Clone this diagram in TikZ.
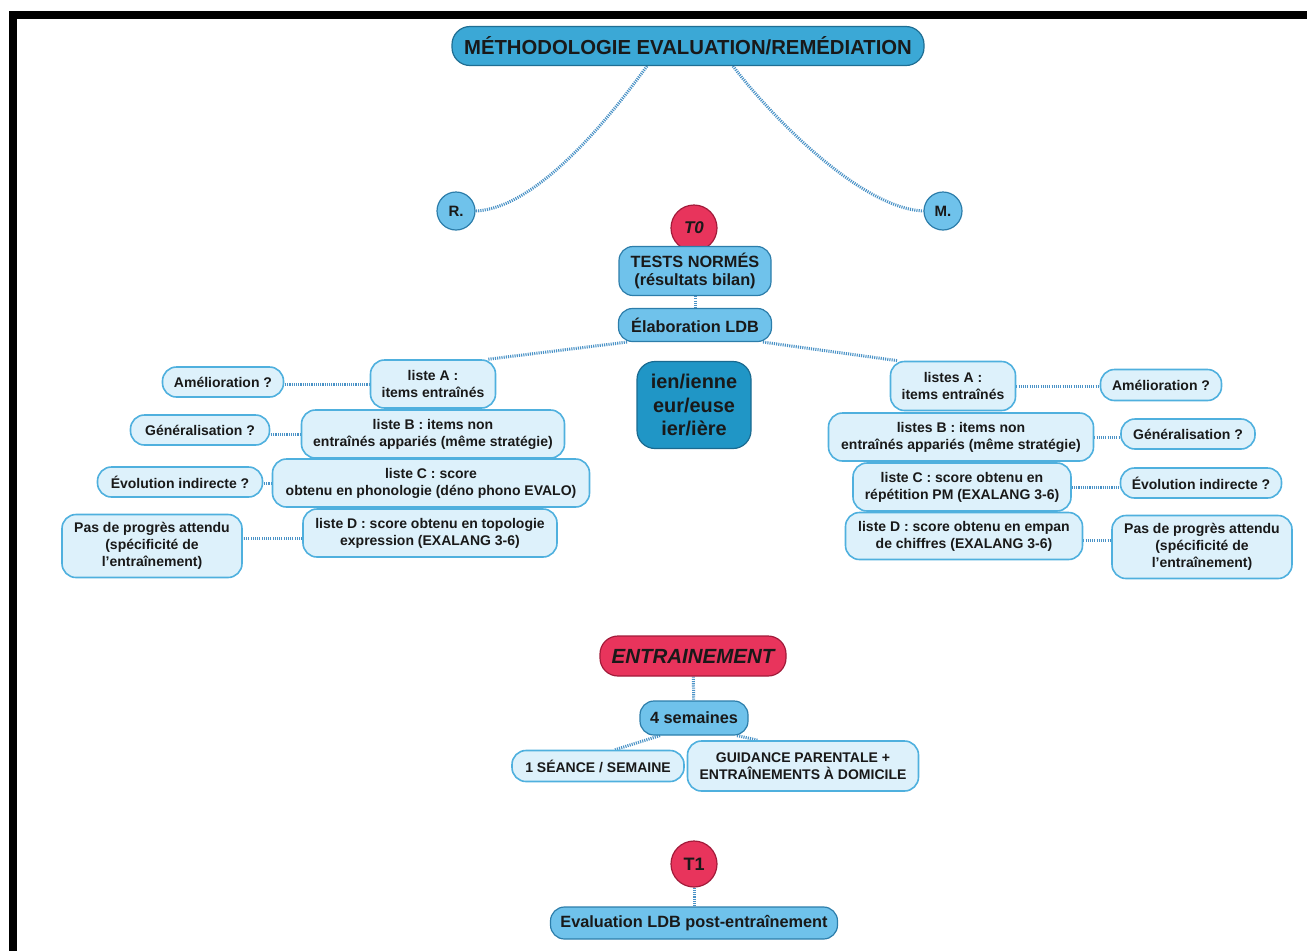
\documentclass[tikz,border=0pt]{standalone}
\usepackage{fontspec}
\setmainfont{Liberation Sans}
\usetikzlibrary{backgrounds}
\definecolor{titleFill}{HTML}{3BA8D6}
\definecolor{titleLine}{HTML}{1F6E93}
\definecolor{midFill}{HTML}{6FC2EB}
\definecolor{midLine}{HTML}{2C7DAA}
\definecolor{leafFill}{HTML}{DDF1FB}
\definecolor{leafLine}{HTML}{4FB0DE}
\definecolor{darkFill}{HTML}{2096C6}
\definecolor{darkLine}{HTML}{1A6A90}
\definecolor{redFill}{HTML}{E8345C}
\definecolor{redLine}{HTML}{A21B3A}
\definecolor{linkBlue}{HTML}{4A92C6}
\colorlet{inkColor}{black!90}

\begin{document}
\begin{tikzpicture}[x=1pt,y=-1pt,
font=\bfseries\fontsize{14}{17}\selectfont,text=inkColor,
leaf/.style={draw=leafLine,fill=leafFill,line width=1.6pt,rounded corners=14pt,align=center,inner sep=2pt,minimum height=30pt},
mid/.style={leaf,draw=midLine,fill=midFill,line width=1.2pt,font=\bfseries\fontsize{16.3}{18.5}\selectfont},
bubble/.style={circle,draw=midLine,fill=midFill,line width=1.2pt,inner sep=0pt,minimum size=38pt,font=\bfseries\fontsize{15}{15}\selectfont},
redbox/.style={mid,draw=redLine,fill=redFill},
link/.style={draw=linkBlue,line width=3pt,dash pattern=on 1.1pt off 1.1pt}]
\useasboundingbox (0,0) rectangle (1307,951);
\fill[black] (9,11) rectangle (1307,19);
\fill[black] (9,11) rectangle (17,951);

\node[mid,draw=titleLine,fill=titleFill,minimum width=472pt,minimum height=39pt,rounded corners=18pt,font=\bfseries\fontsize{20.3}{21}\selectfont] (title) at (688,46) {MÉTHODOLOGIE EVALUATION/REMÉDIATION};
\node[bubble] (r) at (456,211) {R.};
\node[bubble] (m) at (943,211) {M.};
\node[bubble,draw=redLine,fill=redFill,minimum size=46pt,font=\bfseries\itshape\fontsize{17}{17}\selectfont] (tZero) at (694,228) {T0};
\node[mid,minimum width=152pt,minimum height=49pt] (tests) at (695,271) {TESTS NORMÉS\\(résultats bilan)};
\node[mid,minimum width=153pt,minimum height=33pt] (elab) at (695,325) {Élaboration LDB};
\node[mid,draw=darkLine,fill=darkFill,minimum width=114pt,minimum height=87pt,rounded corners=18pt,font=\bfseries\fontsize{19.9}{23.5}\selectfont] (suffix) at (694,405) {ien/ienne\\eur/euse\\ier/ière};

\node[leaf,minimum width=125pt,minimum height=48pt] (listA) at (433,384) {liste A :\\items entraînés};
\node[leaf,minimum width=263pt,minimum height=48pt] (listB) at (433,434) {liste B : items non\\entraînés appariés (même stratégie)};
\node[leaf,minimum width=317pt,minimum height=48pt] (listC) at (431,483) {liste C : score\\obtenu en phonologie (déno phono EVALO)};
\node[leaf,minimum width=254pt,minimum height=48pt] (listD) at (430,533) {liste D : score obtenu en topologie\\expression (EXALANG 3-6)};
\node[leaf,minimum width=121pt] (amelL) at (223,382) {Amélioration ?};
\node[leaf,minimum width=139pt] (generL) at (200,430) {Généralisation ?};
\node[leaf,minimum width=165pt] (evolL) at (180,482) {Évolution indirecte ?};
\node[leaf,minimum width=180pt,minimum height=63pt] (progL) at (152,546) {Pas de progrès attendu\\(spécificité de\\l'entraînement)};

\node[leaf,minimum width=125pt,minimum height=49pt] (listsA) at (953,386) {listes A :\\items entraînés};
\node[leaf,minimum width=265pt,minimum height=48pt] (listsB) at (961,437) {listes B : items non\\entraînés appariés (même stratégie)};
\node[leaf,minimum width=218pt,minimum height=48pt] (listCR) at (962,487) {liste C : score obtenu en\\répétition PM (EXALANG 3-6)};
\node[leaf,minimum width=237pt,minimum height=47pt] (listDR) at (964,536) {liste D : score obtenu en empan\\de chiffres (EXALANG 3-6)};
\node[leaf,minimum width=121pt,minimum height=31pt] (amelR) at (1161,385) {Amélioration ?};
\node[leaf,minimum width=134pt] (generR) at (1188,434) {Généralisation ?};
\node[leaf,minimum width=161pt] (evolR) at (1201,483) {Évolution indirecte ?};
\node[leaf,minimum width=180pt,minimum height=63pt] (progR) at (1202,547) {Pas de progrès attendu\\(spécificité de\\l'entraînement)};

\node[redbox,minimum width=186pt,minimum height=40pt,rounded corners=18pt,font=\bfseries\itshape\fontsize{20.5}{21}\selectfont] (train) at (693,656) {ENTRAINEMENT};
\node[mid,minimum width=108pt,minimum height=34pt] (weeks) at (694,718) {4 semaines};
\node[leaf,minimum width=172pt,minimum height=31pt] (session) at (598,766) {1 SÉANCE / SEMAINE};
\node[leaf,minimum width=231pt,minimum height=50pt] (guidance) at (803,766) {GUIDANCE PARENTALE +\\ENTRAÎNEMENTS À DOMICILE};
\node[bubble,draw=redLine,fill=redFill,minimum size=46pt,font=\bfseries\fontsize{18}{18}\selectfont] (tOne) at (694,864) {T1};
\node[mid,minimum width=287pt,minimum height=32pt] (evalPost) at (694,923) {Evaluation LDB post-entraînement};

\coordinate (dLeft) at ([yshift=-5pt]listD.west);
\coordinate (dRight) at ([yshift=-4pt]listDR.east);

\begin{scope}[on background layer]
\draw[link] ([xshift=-41pt]title.south) .. controls (615,110) and (540,208) .. (r.east);
\draw[link] ([xshift=45pt]title.south) .. controls (766,110) and (858,208) .. (m.west);
\draw[link] (tests) -- (elab);
\draw[link] ([xshift=-68pt]elab.south) -- ([xshift=-8pt]listA.north east);
\draw[link] ([xshift=68pt]elab.south) -- ([xshift=8pt]listsA.north west);
\draw[link] (listA.west) -- (amelL.east |- listA.west);
\draw[link] (listB.west) -- (generL.east |- listB.west);
\draw[link] (listC.west) -- (evolL.east |- listC.west);
\draw[link] (dLeft) -- (dLeft -| progL.east);
\draw[link] (listsA.east) -- (amelR.west |- listsA.east);
\draw[link] (listsB.east) -- (generR.west |- listsB.east);
\draw[link] (listCR.east) -- (evolR.west |- listCR.east);
\draw[link] (dRight) -- (dRight -| progR.west);
\draw[link] (train) -- (weeks);
\draw[link] ([xshift=-34pt]weeks.south) -- ([xshift=17pt]session.north);
\draw[link] ([xshift=43pt]weeks.south) -- ([xshift=-45pt]guidance.north);
\draw[link] (tOne) -- (evalPost);
\end{scope}
\end{tikzpicture}
\end{document}
